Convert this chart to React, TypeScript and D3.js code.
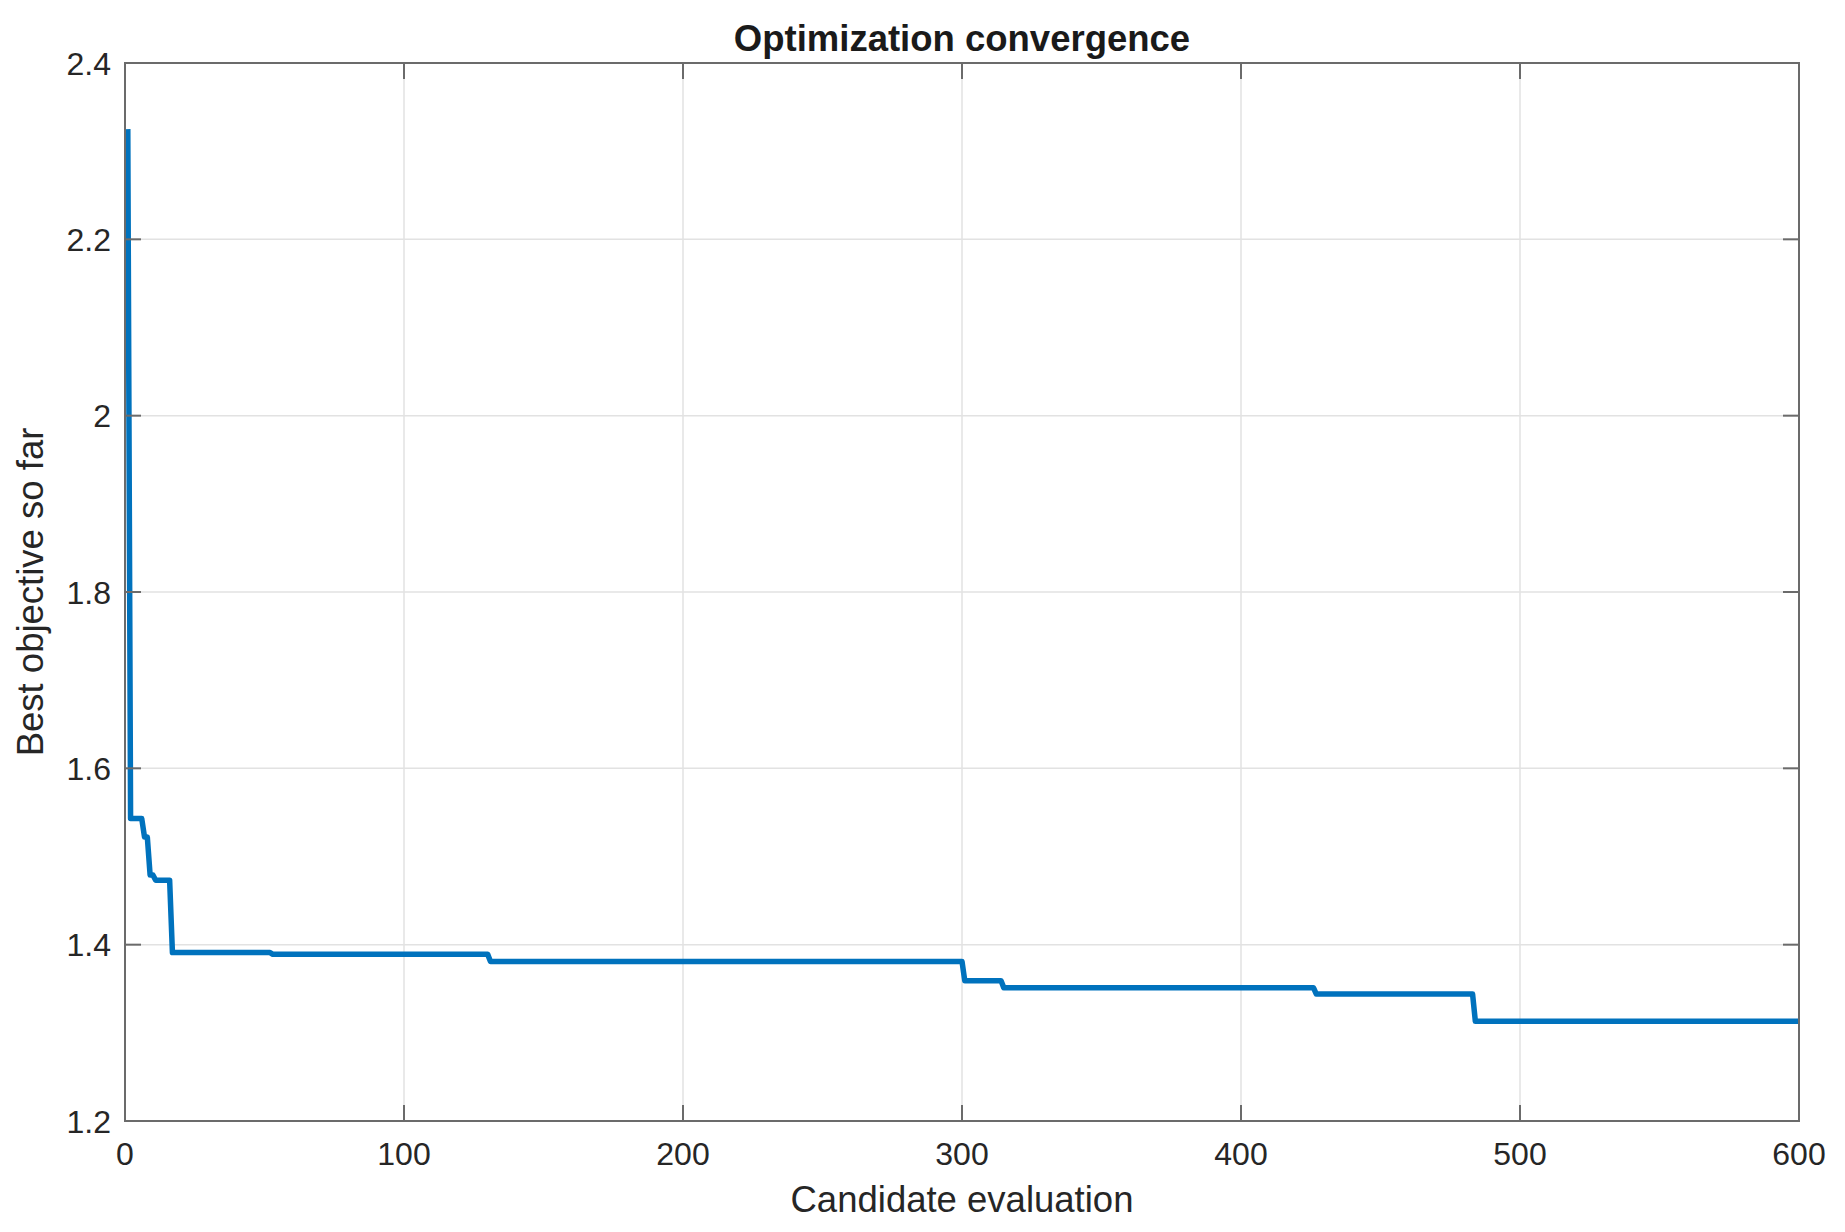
import React, { useEffect, useRef } from "react";
import * as d3 from "d3";

// evaluations where the best-so-far value improved, and the new best value
const changeEvals = [1, 2, 7, 9, 11, 17, 53, 131, 301, 315, 427, 484];
const bestValues = [2.325, 1.543, 1.522, 1.479, 1.473, 1.391, 1.389, 1.381, 1.359, 1.351, 1.344, 1.313];
const nEvals = 600;

const xTicks = [0, 100, 200, 300, 400, 500, 600];
const yTicks = [1.2, 1.4, 1.6, 1.8, 2, 2.2, 2.4];

const W = 1845;
const H = 1232;
const margin = { top: 63, right: 46, bottom: 111, left: 125 };
const font = "'Liberation Sans', Arial, Helvetica, sans-serif";

function bestSoFar() {
    // hold the last improvement for every evaluation
    const pts = [];
    let k = 0;
    for (let e = 1; e <= nEvals; e++) {
        while (k + 1 < changeEvals.length && changeEvals[k + 1] <= e) k++;
        pts.push([e, bestValues[k]]);
    }
    return pts;
}

export default function App() {
    const ref = useRef(null);

    useEffect(() => {
        const svg = d3.select(ref.current);
        svg.selectAll("*").remove();

        const x = d3.scaleLinear().domain([0, 600]).range([margin.left, W - margin.right]);
        const y = d3.scaleLinear().domain([1.2, 2.4]).range([H - margin.bottom, margin.top]);
        const [x0, x1] = x.range();
        const [y0, y1] = y.range();

        svg.append("rect").attr("width", W).attr("height", H).attr("fill", "#fff");

        // grid
        const grid = svg.append("g").attr("stroke", "#e2e2e2").attr("stroke-width", 1.5);
        grid.selectAll("line.gx")
            .data(xTicks.slice(1, -1))
            .join("line")
            .attr("x1", (d) => x(d))
            .attr("x2", (d) => x(d))
            .attr("y1", y1)
            .attr("y2", y0);
        grid.selectAll("line.gy")
            .data(yTicks.slice(1, -1))
            .join("line")
            .attr("y1", (d) => y(d))
            .attr("y2", (d) => y(d))
            .attr("x1", x0)
            .attr("x2", x1);

        // data line
        svg.append("path")
            .datum(bestSoFar())
            .attr("fill", "none")
            .attr("stroke", "#0072BD")
            .attr("stroke-width", 5.5)
            .attr("stroke-linejoin", "round")
            .attr(
                "d",
                d3
                    .line()
                    .x((d) => x(d[0]))
                    .y((d) => y(d[1]))
            );

        // box + inward ticks
        const ax = svg.append("g").attr("stroke", "#6b6b6b").attr("stroke-width", 2).attr("fill", "none");
        ax.append("rect").attr("x", x0).attr("y", y1).attr("width", x1 - x0).attr("height", y0 - y1);
        const tl = 16;
        xTicks.forEach((t) => {
            ax.append("line").attr("x1", x(t)).attr("x2", x(t)).attr("y1", y0).attr("y2", y0 - tl);
            ax.append("line").attr("x1", x(t)).attr("x2", x(t)).attr("y1", y1).attr("y2", y1 + tl);
        });
        yTicks.forEach((t) => {
            ax.append("line").attr("y1", y(t)).attr("y2", y(t)).attr("x1", x0).attr("x2", x0 + tl);
            ax.append("line").attr("y1", y(t)).attr("y2", y(t)).attr("x1", x1).attr("x2", x1 - tl);
        });

        const txt = svg.append("g").attr("font-family", font).attr("fill", "#262626");

        txt.selectAll("text.xt")
            .data(xTicks)
            .join("text")
            .attr("x", (d) => x(d))
            .attr("y", y0 + 44)
            .attr("text-anchor", "middle")
            .attr("font-size", 32)
            .text((d) => d);

        txt.selectAll("text.yt")
            .data(yTicks)
            .join("text")
            .attr("x", x0 - 14)
            .attr("y", (d) => y(d) + 11.5)
            .attr("text-anchor", "end")
            .attr("font-size", 32)
            .text((d) => d3.format("~g")(d));

        txt.append("text")
            .attr("x", (x0 + x1) / 2)
            .attr("y", 1212)
            .attr("text-anchor", "middle")
            .attr("font-size", 36.5)
            .text("Candidate evaluation");

        txt.append("text")
            .attr("transform", `translate(43,${(y0 + y1) / 2}) rotate(-90)`)
            .attr("text-anchor", "middle")
            .attr("font-size", 36.5)
            .text("Best objective so far");

        txt.append("text")
            .attr("x", (x0 + x1) / 2)
            .attr("y", 51)
            .attr("text-anchor", "middle")
            .attr("font-size", 36.5)
            .attr("font-weight", "bold")
            .attr("fill", "#1a1a1a")
            .text("Optimization convergence");
    }, []);

    return (
        <div style={{ position: "absolute", left: 0, top: 0 }}>
            <svg ref={ref} width={W} height={H} style={{ display: "block" }}></svg>
        </div>
    );
}
